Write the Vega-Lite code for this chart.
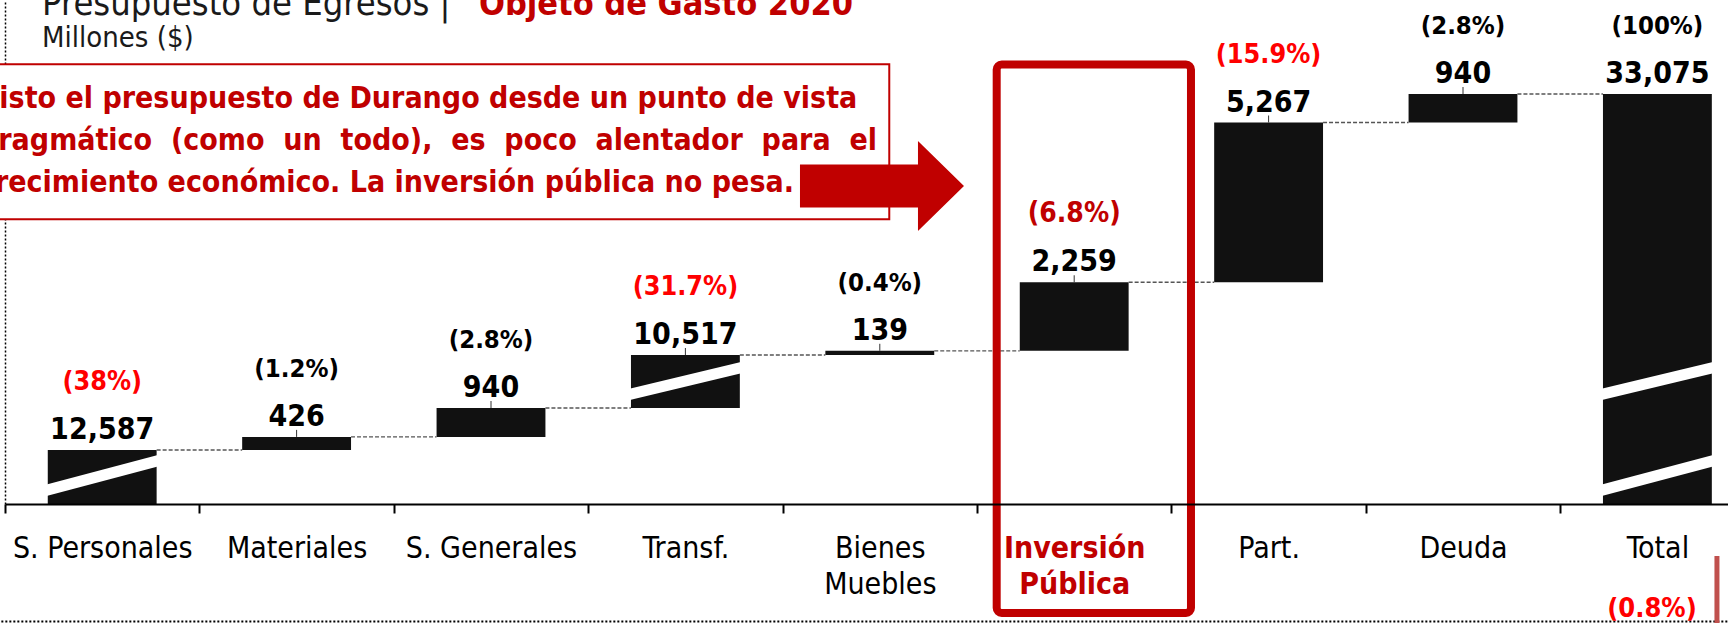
{
  "$schema": "https://vega.github.io/schema/vega-lite/v6.json",
  "width": 1723,
  "height": 504,
  "autosize": {"type": "none"},
  "padding": {"left": 5, "top": 0, "right": 0, "bottom": 119},
  "background": "white",
  "config": {"view": {"stroke": null}, "font": "DejaVu Sans Condensed, DejaVu Sans"},
  "datasets": {
    "gasto": [
      {"categoria": "S. Personales", "monto": 12587, "inicio": 0, "fin": 12587, "pct": "(38%)", "grupo": "destacado", "siguiente": "Materiales"},
      {"categoria": "Materiales", "monto": 426, "inicio": 12587, "fin": 13013, "pct": "(1.2%)", "grupo": "normal", "siguiente": "S. Generales"},
      {"categoria": "S. Generales", "monto": 940, "inicio": 13013, "fin": 13953, "pct": "(2.8%)", "grupo": "normal", "siguiente": "Transf."},
      {"categoria": "Transf.", "monto": 10517, "inicio": 13953, "fin": 24470, "pct": "(31.7%)", "grupo": "destacado", "siguiente": "Bienes Muebles"},
      {"categoria": "Bienes Muebles", "monto": 139, "inicio": 24470, "fin": 24609, "pct": "(0.4%)", "grupo": "normal", "siguiente": "Inversión Pública"},
      {"categoria": "Inversión Pública", "monto": 2259, "inicio": 24609, "fin": 26868, "pct": "(6.8%)", "grupo": "inversion", "siguiente": "Part."},
      {"categoria": "Part.", "monto": 5267, "inicio": 26868, "fin": 32135, "pct": "(15.9%)", "grupo": "destacado", "siguiente": "Deuda"},
      {"categoria": "Deuda", "monto": 940, "inicio": 32135, "fin": 33075, "pct": "(2.8%)", "grupo": "normal", "siguiente": "Total"},
      {"categoria": "Total", "monto": 33075, "inicio": 0, "fin": 33075, "pct": "(100%)", "grupo": "normal", "siguiente": null}
    ],
    "cortes": [
      {"categoria": "S. Personales", "y_izq": 2937, "y_der": 10349},
      {"categoria": "Transf.", "y_izq": 16473, "y_der": 22147},
      {"categoria": "Total", "y_izq": 2937, "y_der": 10349},
      {"categoria": "Total", "y_izq": 16473, "y_der": 22147}
    ]
  },
  "data": {"name": "gasto"},
  "layer": [
    {
      "data": {"values": [{"nota": "recuadro"}]},
      "mark": {"type": "rect", "fill": "white", "stroke": "#c00000", "strokeWidth": 2},
      "encoding": {
        "x": {"datum": "S. Personales", "bandPosition": -0.578, "title": null},
        "x2": {"datum": "Bienes Muebles", "bandPosition": 0.587},
        "y": {"datum": 34054, "title": null},
        "y2": {"datum": 28944}
      }
    },
    {
      "data": {"values": [{"texto": "Visto el presupuesto de Durango desde un punto de vista\npragmático \u00a0(como \u00a0un \u00a0todo), \u00a0es \u00a0poco \u00a0alentador \u00a0para \u00a0el\ncrecimiento económico. La inversión pública no pesa."}]},
      "mark": {"type": "text", "align": "left", "baseline": "alphabetic", "fontSize": 30, "fontWeight": "bold", "color": "#c00000", "lineBreak": "\n", "lineHeight": 42},
      "encoding": {
        "x": {"datum": "S. Personales", "bandPosition": -0.632, "title": null},
        "y": {"datum": 32603, "title": null},
        "text": {"field": "texto"}
      }
    },
    {
      "mark": {"type": "bar", "color": "#111111"},
      "encoding": {
        "x": {
          "field": "categoria", "type": "nominal", "title": null,
          "scale": {
            "domain": ["S. Personales", "Materiales", "S. Generales", "Transf.", "Bienes Muebles", "Inversión Pública", "Part.", "Deuda", "Total"],
            "range": [0, 1749.6], "paddingInner": 0.44, "paddingOuter": 0.22
          },
          "axis": {
            "title": null, "labelAngle": 0, "labelAlign": "center", "domainColor": "#000000", "domainWidth": 2,
            "tickColor": "#000000", "tickWidth": 2, "tickSize": 9, "tickOffset": -97.2, "labelOffset": 97.2,
            "labelFontSize": 30, "labelBaseline": "alphabetic", "labelPadding": 44, "labelLineHeight": 36,
            "labelLimit": 500, "labelOverlap": false, "labelFlush": false,
            "labelColor": {"condition": {"test": "datum.value === 'Inversión Pública'", "value": "#c00000"}, "value": "#000000"},
            "labelFontWeight": {"condition": {"test": "datum.value === 'Inversión Pública'", "value": "bold"}, "value": "normal"},
            "labelExpr": "datum.value === 'Bienes Muebles' ? ['Bienes', 'Muebles'] : datum.value === 'Inversión Pública' ? ['Inversión', 'Pública'] : datum.label"
          }
        },
        "y": {
          "field": "inicio", "type": "quantitative", "title": null,
          "scale": {"domain": [0, 12587, 13953, 24470, 33075, 36174], "range": [504, 450, 408, 355, 94, 0], "nice": false, "zero": false},
          "axis": {"title": null, "labels": false, "ticks": false, "grid": false, "domain": true, "domainDash": [2, 2], "domainColor": "#000000", "domainWidth": 1.5}
        },
        "y2": {"field": "fin"}
      }
    },
    {
      "data": {"name": "cortes"},
      "mark": {"type": "rule", "color": "white", "strokeWidth": 11, "strokeCap": "butt"},
      "encoding": {
        "x": {"field": "categoria", "type": "nominal", "bandPosition": -0.05, "title": null},
        "x2": {"field": "categoria", "bandPosition": 1.05},
        "y": {"field": "y_izq", "type": "quantitative", "title": null},
        "y2": {"field": "y_der"}
      }
    },
    {
      "transform": [{"filter": "isValid(datum.siguiente)"}],
      "mark": {"type": "rule", "color": "#555555", "strokeWidth": 1.3, "strokeDash": [4, 2]},
      "encoding": {
        "x": {"field": "categoria", "type": "nominal", "bandPosition": 1, "title": null},
        "x2": {"field": "siguiente", "bandPosition": 0},
        "y": {"field": "fin", "type": "quantitative", "title": null}
      }
    },
    {
      "transform": [{"filter": "datum.categoria !== 'S. Personales' && datum.categoria !== 'Total'"}],
      "mark": {"type": "rule", "color": "#333333", "strokeWidth": 1, "y2Offset": -7},
      "encoding": {
        "x": {"field": "categoria", "type": "nominal", "bandPosition": 0.5, "title": null},
        "y": {"field": "fin", "type": "quantitative", "title": null},
        "y2": {"field": "fin"}
      }
    },
    {
      "mark": {"type": "text", "baseline": "alphabetic", "dy": -11, "fontSize": 30, "fontWeight": "bold", "color": "#000000"},
      "encoding": {
        "x": {"field": "categoria", "type": "nominal", "title": null},
        "y": {"field": "fin", "type": "quantitative", "title": null},
        "text": {"field": "monto", "type": "quantitative", "format": ","}
      }
    },
    {
      "mark": {"type": "text", "baseline": "alphabetic", "dy": -60, "fontWeight": "bold"},
      "encoding": {
        "x": {"field": "categoria", "type": "nominal", "title": null},
        "y": {"field": "fin", "type": "quantitative", "title": null},
        "text": {"field": "pct"},
        "color": {"field": "grupo", "type": "nominal", "legend": null, "scale": {"domain": ["normal", "destacado", "inversion"], "range": ["#000000", "#ff0000", "#c00000"]}},
        "size": {"field": "grupo", "type": "nominal", "legend": null, "scale": {"domain": ["normal", "destacado", "inversion"], "range": [25.5, 28, 28]}}
      }
    },
    {
      "data": {"values": [{"nota": "resaltado"}]},
      "mark": {"type": "rect", "fill": "transparent", "stroke": "#c00000", "strokeWidth": 8, "cornerRadius": 5},
      "encoding": {
        "x": {"datum": "Inversión Pública", "bandPosition": -0.212, "title": null},
        "x2": {"datum": "Part.", "bandPosition": -0.213},
        "y": {"datum": 34044, "title": null},
        "y2": {"datum": -25407}
      }
    },
    {
      "data": {"values": [{"nota": "flecha"}]},
      "mark": {"type": "point", "shape": "M-1,-0.262 L0.439,-0.262 L0.439,-0.549 L1,0 L0.439,0.549 L0.439,0.262 L-1,0.262 Z", "size": 26896, "filled": true, "color": "#c00000", "opacity": 1, "strokeWidth": 0},
      "encoding": {
        "x": {"datum": "Bienes Muebles", "bandPosition": 0.52, "title": null},
        "y": {"datum": 30042, "title": null}
      }
    },
    {
      "data": {"values": [{"texto": "Presupuesto de Egresos |"}]},
      "mark": {"type": "text", "align": "left", "baseline": "alphabetic", "fontSize": 36, "color": "#1a1a1a"},
      "encoding": {
        "x": {"datum": "S. Personales", "bandPosition": -0.053, "title": null},
        "y": {"datum": 35680, "title": null},
        "text": {"field": "texto"}
      }
    },
    {
      "data": {"values": [{"texto": "Objeto de Gasto 2020"}]},
      "mark": {"type": "text", "align": "left", "baseline": "alphabetic", "fontSize": 34, "fontWeight": "bold", "color": "#c00000"},
      "encoding": {
        "x": {"datum": "S. Generales", "bandPosition": 0.389, "title": null},
        "y": {"datum": 35680, "title": null},
        "text": {"field": "texto"}
      }
    },
    {
      "data": {"values": [{"texto": "Millones ($)"}]},
      "mark": {"type": "text", "align": "left", "baseline": "alphabetic", "fontSize": 29, "color": "#1a1a1a"},
      "encoding": {
        "x": {"datum": "S. Personales", "bandPosition": -0.053, "title": null},
        "y": {"datum": 34625, "title": null},
        "text": {"field": "texto"}
      }
    },
    {
      "data": {"values": [{"nota": "linea inferior"}]},
      "mark": {"type": "rule", "color": "#000000", "strokeWidth": 2, "strokeDash": [2, 2]},
      "encoding": {
        "x": {"datum": "S. Personales", "bandPosition": -0.5, "title": null},
        "x2": {"datum": "Total", "bandPosition": 1.6},
        "y": {"datum": -27388, "title": null}
      }
    },
    {
      "data": {"values": [{"nota": "linea derecha"}]},
      "mark": {"type": "rule", "color": "#c0504d", "strokeWidth": 5},
      "encoding": {
        "x": {"datum": "Total", "bandPosition": 1.047, "title": null},
        "y": {"datum": -12121, "title": null},
        "y2": {"datum": -28500}
      }
    },
    {
      "data": {"values": [{"texto": "(0.8%)"}]},
      "mark": {"type": "text", "align": "center", "baseline": "alphabetic", "fontSize": 27, "fontWeight": "bold", "color": "#ff0000"},
      "encoding": {
        "x": {"datum": "Total", "bandPosition": 0.45, "title": null},
        "y": {"datum": -26339, "title": null},
        "text": {"field": "texto"}
      }
    }
  ]
}
